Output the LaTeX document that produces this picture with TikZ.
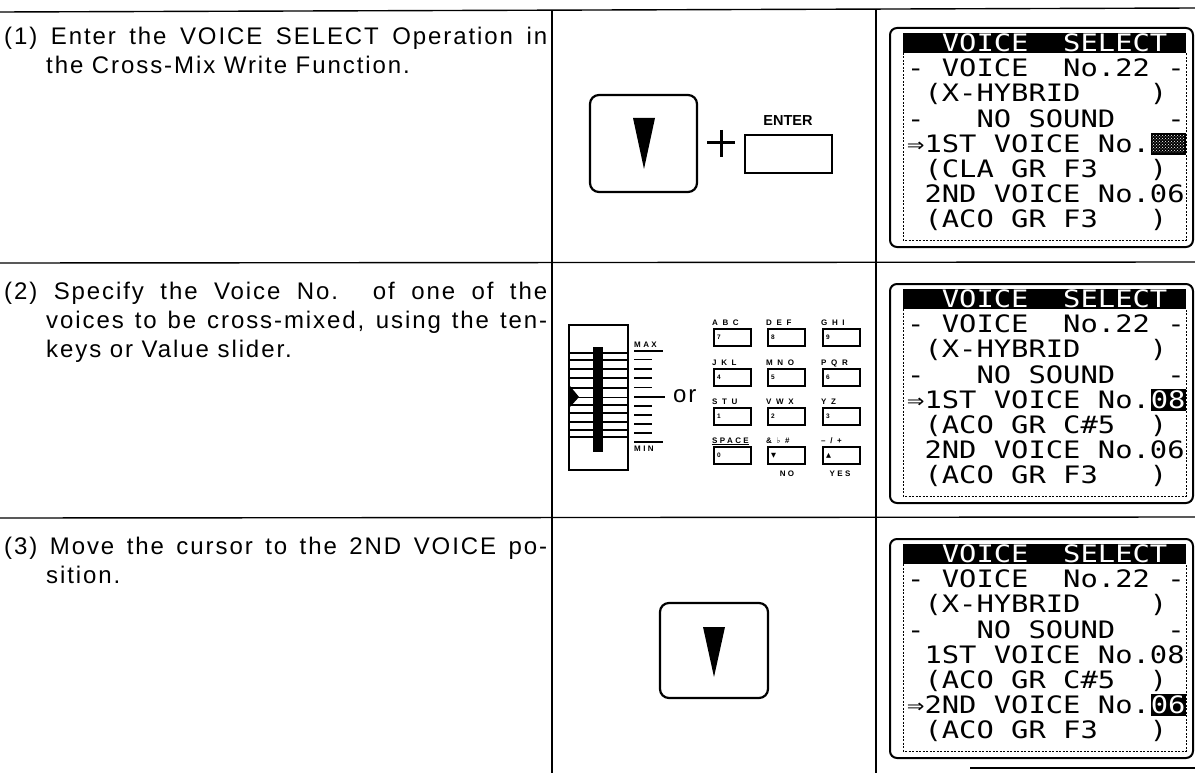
\documentclass[tikz,border=0pt]{standalone}
\usepackage{fontspec}
\usepackage{graphicx}
\setmainfont{Liberation Sans}[LetterSpace=8]
\newfontfamily\plainsans{Liberation Sans}
\newfontfamily\keyfont{Liberation Sans}[LetterSpace=30]
\newfontfamily\lcdfont{DejaVu Sans Mono}
\newfontfamily\symfont{DejaVu Sans}
\usetikzlibrary{patterns}

\newcommand{\lcdtxt}[1]{\scalebox{1.2}[1]{\lcdfont\fontsize{24}{24}\selectfont #1}}

\newcommand{\lcdblock}[3]{%
  \fill (1150.5,{15+25.2*#1-11}) rectangle (1185.5,{15+25.2*#1+11});
  \node[lcdrow,text=white] (#3) at (1150.6,{15+25.2*#1+8.5}) {\lcdtxt{#2}};}

\newcommand{\lcdpat}[2]{%
  \fill (1150.5,{15+25.2*#1-11}) rectangle (1185.5,{15+25.2*#1+11});
  \fill[pattern=crosshatch dots, pattern color=white] (1152,{15+25.2*#1-8}) rectangle (1184,{15+25.2*#1+9});
  \coordinate (#2) at (1168,{15+25.2*#1});}

\newcommand{\lcdscreen}[9]{%
 \begin{scope}[shift={(0,#1)}]
  \draw[line width=2pt, rounded corners=7pt] (890,0) rectangle (1193,219);
  \fill (903,5) rectangle (1186,25);
  \draw[line width=0.6pt, dash pattern=on 2pt off 1.5pt] (903,25) -- (903,212) -- (1186,212) -- (1186,25);
  \node[lcdrow, text=white] (hd#1) at (907,23.5) {\lcdtxt{~~VOICE~~SELECT~}};
  \node[lcdrow] (ra#1) at (907,48.7) {\lcdtxt{#2}};
  \node[lcdrow] (rb#1) at (907,73.9) {\lcdtxt{#3}};
  \node[lcdrow] (rc#1) at (907,99.1) {\lcdtxt{#4}};
  \node[lcdrow] (rd#1) at (907,124.3) {\lcdtxt{#5}};
  \node[lcdrow] (re#1) at (907,149.5) {\lcdtxt{#6}};
  \node[lcdrow] (rf#1) at (907,174.7) {\lcdtxt{#7}};
  \node[lcdrow] (rg#1) at (907,199.9) {\lcdtxt{#8}};
  #9
 \end{scope}}

\begin{document}
\begin{tikzpicture}[x=1pt,y=-1pt,
  grid/.style={line width=1.4pt},
  btn/.style={draw, line width=2.2pt, rounded corners=9pt},
  keybox/.style={draw, line width=1.8pt},
  txt/.style={anchor=base west, inner sep=0pt, font=\fontsize{24}{29}\selectfont},
  lcdrow/.style={anchor=base west, inner sep=0pt},
  keylab/.style={inner sep=0pt, font=\keyfont\bfseries\fontsize{8}{8}\selectfont},
  keydig/.style={inner sep=0pt, font=\plainsans\bfseries\fontsize{6.5}{6.5}\selectfont},
  smalllab/.style={inner sep=0pt, font=\keyfont\bfseries\fontsize{8}{8}\selectfont}]
\useasboundingbox (0,0) rectangle (1195,773);

% table grid
\draw[grid] (0,12) -- (1195,8);
\draw[grid] (552,10.5) -- (552,773);
\draw[grid] (876,9) -- (876,773);
\draw[grid] (0,263) -- (1195,262);
\draw[grid] (0,518) -- (1195,517);
\draw[grid] (970,768) -- (1195,768);

% left texts
\node[txt] (t1a) at (4,45) {\makebox[543pt][s]{(1) Enter the VOICE SELECT Operation in}};
\node[txt] (t1b) at (46,74) {the Cross-Mix Write Function.};
\node[txt] (t2a) at (4,299) {\makebox[543pt][s]{(2) Specify the Voice No. of one of the}};
\node[txt] (t2b) at (46,328) {\makebox[501pt][s]{voices to be cross-mixed, using the ten-}};
\node[txt] (t2c) at (46,357) {keys or Value slider.};
\node[txt] (t3a) at (4,554) {\makebox[543pt][s]{(3) Move the cursor to the 2ND VOICE po-}};
\node[txt] (t3b) at (46,583) {sition.};

% row 1 : cursor key + ENTER
\draw[btn] (590,95) rectangle (697,192);
\fill (633,118) -- (655,118) -- (644,169) -- cycle;
\draw[line width=3pt] (707,143) -- (735,143);
\draw[line width=3pt] (721,130) -- (721,157);
\draw[line width=2.4pt] (745,135) rectangle (832,173);
\node[inner sep=0pt, font=\plainsans\bfseries\fontsize{14.5}{14.5}\selectfont] (enter) at (788,121) {ENTER};

% row 2 : slider
\draw[line width=1.5pt] (569,325) rectangle (628,470);
\fill (593,347) rectangle (603,452);
\foreach \yy in {353,360,369,378,413,422,430,437}
  \draw[line width=2.4pt] (570,\yy) -- (627,\yy);
\draw[line width=2.8pt] (570,388) -- (627,388);
\draw[line width=2.8pt] (570,405) -- (627,405);
\draw[line width=1pt] (576,397) -- (627,397);
\fill (570,386) -- (579,397) -- (570,407) -- cycle;
\foreach \yy in {359.3,368.7,377.7,387.3,406,415,424,432.7}
  \draw[line width=1.6pt] (634,\yy) -- (652,\yy);
\draw[line width=1.6pt] (634,351) -- (663,351);
\draw[line width=1.6pt] (634,396.7) -- (665,396.7);
\draw[line width=1.6pt] (634,441.7) -- (663,441.7);
\node[smalllab, anchor=south west] (max) at (634,348) {MAX};
\node[smalllab, anchor=north west] (min) at (634,446) {MIN};
\node[txt] (or) at (673,402) {or};

% tenkeys
\foreach \x/\y/\lab/\dig [count=\i] in {
  714/329/{A B C}/7, 768/329/{D E F}/8, 823/329/{G H I}/9,
  714/369/{J K L}/4, 768/369/{M N O}/5, 823/369/{P Q R}/6,
  714/408/{S T U}/1, 768/408/{V W X}/2, 823/408/{Y Z}/3,
  714/447/{\underline{SPACE}}/0, 768/447/{\& {\symfont ♭} \#}/{\symfont ▼},
  823/447/{– / +}/{\symfont ▲}} {
  \draw[keybox] (\x,\y) rectangle ++(37,17);
  \node[keylab, anchor=base west] (kl\i) at ({\x-2},{\y-4}) {\lab};
  \node[keydig, anchor=west] (kd\i) at ({\x+3},{\y+8.5}) {\dig};
}
\node[smalllab, anchor=north] (no) at (787,471) {NO};
\node[smalllab, anchor=north] (yes) at (840,471) {YES};

% row 3 : cursor key
\draw[btn] (660,603) rectangle (768,698);
\fill (703,627) -- (725,627) -- (714,677) -- cycle;

% LCD screens
\lcdscreen{28}{-~VOICE~~No.22~-}{~(X-HYBRID~~~~)~}{-~~~NO~SOUND~~~-}{⇒1ST~VOICE~No.}{~(CLA~GR~F3~~~)~}{~2ND~VOICE~No.06}{~(ACO~GR~F3~~~)~}{\lcdpat{4}{blkA}}
\lcdscreen{284}{-~VOICE~~No.22~-}{~(X-HYBRID~~~~)~}{-~~~NO~SOUND~~~-}{⇒1ST~VOICE~No.}{~(ACO~GR~C\#5~~)~}{~2ND~VOICE~No.06}{~(ACO~GR~F3~~~)~}{\lcdblock{4}{08}{blkB}}
\lcdscreen{539}{-~VOICE~~No.22~-}{~(X-HYBRID~~~~)~}{-~~~NO~SOUND~~~-}{~1ST~VOICE~No.08}{~(ACO~GR~C\#5~~)~}{⇒2ND~VOICE~No.}{~(ACO~GR~F3~~~)~}{\lcdblock{6}{06}{blkC}}
\end{tikzpicture}
\end{document}
